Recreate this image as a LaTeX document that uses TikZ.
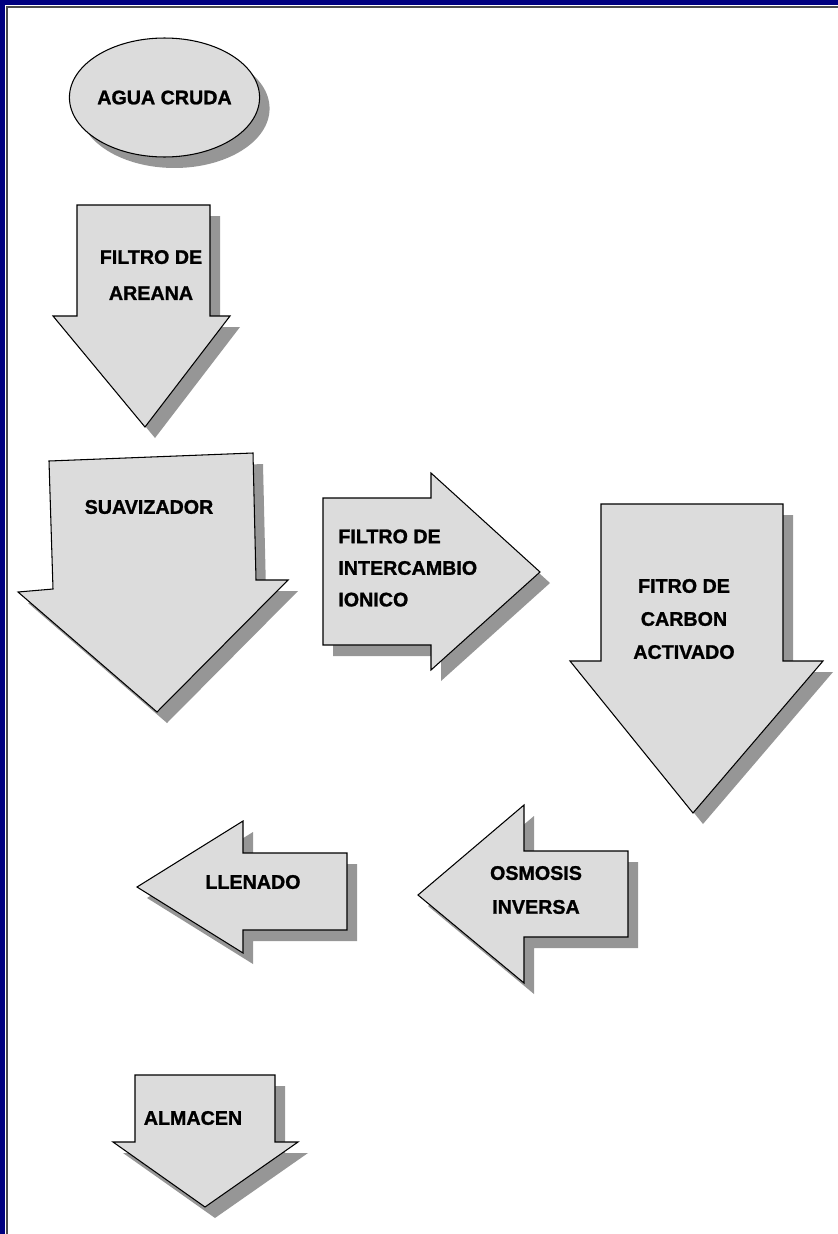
\documentclass[tikz,border=0pt]{standalone}
\usepackage{fontspec}
\setmainfont{Liberation Sans}[BoldFeatures={FakeBold=1.2}]
\usetikzlibrary{positioning,shapes.geometric,shadows}

\definecolor{frameblue}{RGB}{0,0,128}
\definecolor{dither}{RGB}{220,220,220}
\definecolor{shadowgray}{RGB}{150,150,150}

\begin{document}
\begin{tikzpicture}[x=0.02cm, y=-0.02cm,            % one unit = one pixel, y down
                    blockarrow/.style={draw=black, line width=0.6pt, fill=dither,
                      drop shadow={shadow xshift=0.2cm, shadow yshift=-0.22cm,
                                   fill=shadowgray, opacity=1}},
                    lbl/.style={font=\bfseries\fontsize{11.2}{18}\selectfont,
                                inner sep=0pt}]

\useasboundingbox (0,0) rectangle (838,1234);

% ---------------------------------------------------------------
% Window frame
\fill[frameblue] (0,0) rectangle (838,5);
\fill[frameblue] (0,0) rectangle (5,1234);
\draw[black!70, line width=1.2pt] (7,1234) |- (838,7);

% ---------------------------------------------------------------
% Start
\node[ellipse, blockarrow, minimum width=2.98cm, minimum height=2.38cm, lbl]
      (cruda) at (164.5,97.5) {AGUA CRUDA};

% ---------------------------------------------------------------
% Block arrows
\draw[blockarrow] (77,205) -- (210,205) -- (210,316) -- (230,316)
      -- (145,427) -- (53,316) -- (77,316) -- cycle;            % arena
\draw[blockarrow] (49,461) -- (253,453) -- (256,580) -- (288,580)
      -- (157,712) -- (18,592) -- (53,589) -- cycle;            % suavizador
\draw[blockarrow] (323,498) -- (431,498) -- (431,473) -- (540,572)
      -- (431,670) -- (431,645) -- (323,645) -- cycle;          % intercambio
\draw[blockarrow] (601,504) -- (783,504) -- (783,661) -- (823,661)
      -- (693,813) -- (570,661) -- (601,661) -- cycle;          % carbon
\draw[blockarrow] (628,851) -- (524,851) -- (524,805) -- (418,895)
      -- (524,983) -- (524,937) -- (628,937) -- cycle;          % osmosis
\draw[blockarrow] (347,853) -- (243,853) -- (243,821) -- (137,887)
      -- (243,953) -- (243,930) -- (347,930) -- cycle;          % llenado
\draw[blockarrow] (135,1075) -- (275,1075) -- (275,1142) -- (298,1142)
      -- (205,1207) -- (113,1142) -- (135,1142) -- cycle;       % almacen

% ---------------------------------------------------------------
% Labels
\node[lbl, align=center, font=\bfseries\fontsize{11.2}{20.5}\selectfont]
      (arena) at (151,275) {FILTRO DE\\AREANA};
\node[lbl] (suav) at (149,507) {SUAVIZADOR};
\node[lbl, align=left, anchor=west]
      (ionico) at (338,568) {FILTRO DE\\INTERCAMBIO\\IONICO};
\node[lbl, align=center, font=\bfseries\fontsize{11.2}{18.8}\selectfont]
      (carbon) at (684,619) {FITRO DE\\CARBON\\ACTIVADO};
\node[lbl, align=center, font=\bfseries\fontsize{11.2}{19.3}\selectfont]
      (osmosis) at (536,890) {OSMOSIS\\INVERSA};
\node[lbl] (llenado) at (253,882) {LLENADO};
\node[lbl] (almacen) at (193,1118) {ALMACEN};

\end{tikzpicture}
\end{document}
